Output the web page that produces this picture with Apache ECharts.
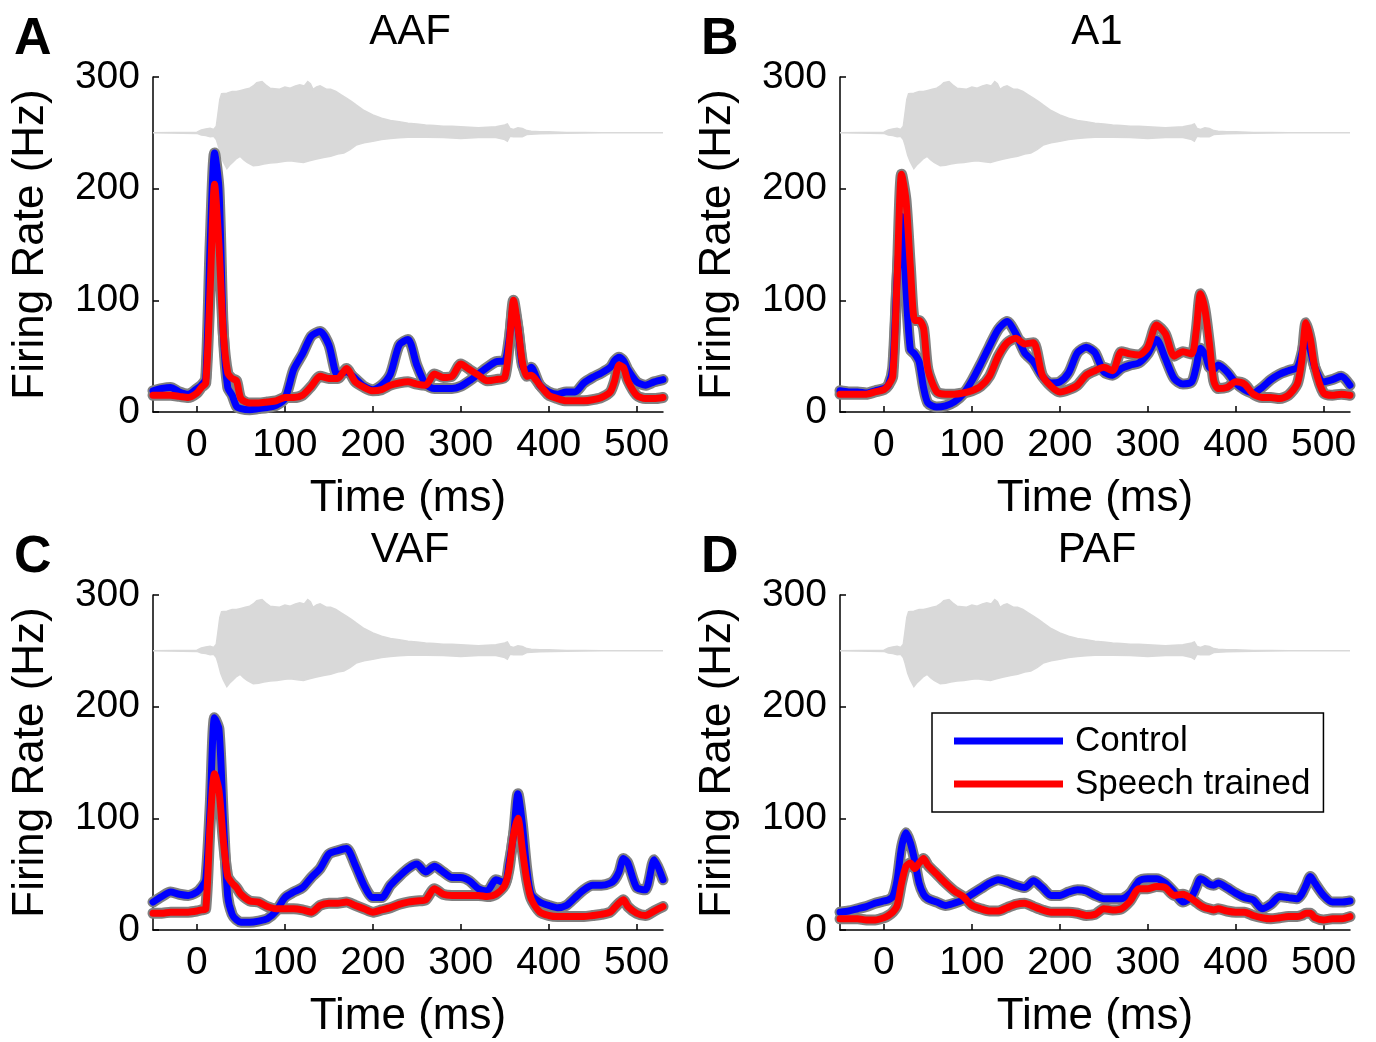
<!DOCTYPE html>
<html>
<head>
<meta charset="utf-8">
<script src="https://cdn.jsdelivr.net/npm/echarts@6/dist/echarts.min.js"></script>
<style>
  html, body { margin: 0; padding: 0; background: #fff; }
  #chart { width: 1376px; height: 1042px; }
</style>
</head>
<body>
<div id="chart"></div>
<script>
// Time base (ms, relative to stimulus onset) shared by all PSTH traces
const timeMs = [
  -50, -40, -30, -20, -10, 0, 5, 10, 15, 20, 25, 30, 35, 40, 45, 50,
  60, 70, 80, 90, 100, 110, 120, 130, 140, 150, 160, 170, 180, 190, 200, 210, 220, 230, 240, 250,
  260, 270, 280, 290, 300, 310, 320, 330, 340, 350,
  355, 360, 365, 370, 375, 380,
  390, 400, 410, 420, 430, 440, 450, 460, 470,
  475, 480, 485, 490,
  500, 510, 520, 530
];

// Mean firing rate (Hz) per field, control vs speech-trained rats
const aafControl = [
  19, 21, 22, 18, 16, 21, 24, 30, 150, 232, 200, 70, 22, 15, 5, 3,
  2, 3, 4, 6, 12, 38, 52, 68, 72, 60, 33, 36, 30, 23, 20, 24, 34, 60, 65, 42,
  25, 21, 21, 21, 23, 28, 34, 40, 45, 46,
  65, 95, 75, 42, 36, 40,
  24, 18, 16, 18, 18, 26, 31, 35, 40,
  46, 49, 46, 38,
  27, 24, 27, 29
];
const aafTrained = [
  15, 15, 15, 14, 13, 17, 22, 26, 110, 204, 150, 70, 35, 30, 28, 12,
  8, 8, 9, 10, 13, 13, 15, 23, 32, 30, 30, 39, 27, 22, 19, 20, 24, 26, 27, 25,
  24, 34, 31, 32, 43, 38, 33, 28, 29, 31,
  60, 100, 76, 45, 32, 33,
  24, 15, 12, 10, 10, 10, 11, 13, 18,
  28, 42, 40, 28,
  15, 12, 12, 13
];
const a1Control = [
  19, 18, 18, 17, 19, 21, 24, 40, 120, 175, 110, 56, 52, 45, 22, 8,
  4.5, 5.5, 9, 16, 28, 43, 59, 74, 81, 70, 53, 45, 32, 26, 27, 35, 53, 58, 53, 36,
  33, 39, 42, 44, 52, 65, 48, 30, 25, 27,
  40, 57, 52, 40, 38, 42,
  36, 26, 20, 17, 22, 29, 34, 37, 40,
  52, 68, 55, 40,
  27, 29, 32, 24
];
const a1Trained = [
  16, 16, 16, 16, 18, 20, 24, 32, 120, 213, 190, 130, 82, 82, 75, 38,
  18, 16, 16, 17, 19, 23, 32, 50, 62, 66, 61, 62, 33, 23, 18, 20, 24, 33, 37, 40,
  37, 54, 52, 51, 58, 78, 70, 50, 54, 52,
  72, 106, 92, 62, 28, 21,
  22, 27, 25, 16, 13, 13, 12, 15, 25,
  45, 80, 65, 40,
  17, 15, 16, 15
];
const vafControl = [
  25, 30, 34, 32, 31, 34, 38, 45, 110, 190, 180, 100, 30, 14, 9, 7,
  7, 8, 10, 17, 29, 34, 38, 47, 55, 68, 71, 73, 58, 40, 29, 29, 40, 48, 55, 59,
  52, 57, 52, 47, 47, 44, 37, 35, 45, 42,
  60, 85, 122, 95, 55, 32,
  25, 22, 20, 22, 29, 36, 40, 40, 42,
  45, 52, 64, 60,
  38, 36, 63, 45
];
const vafTrained = [
  15, 15, 16, 16, 16, 17, 18, 19, 95, 140, 125, 80, 48, 42, 38, 32,
  26, 25, 21, 19, 19, 19, 18, 16, 22, 24, 24, 25, 22, 19, 16, 18, 20, 23, 25, 26,
  27, 37, 32, 31, 31, 31, 31, 30, 32, 40,
  55, 85, 100, 72, 45, 28,
  16, 13, 12, 12, 12, 12, 13, 14, 16,
  20, 24, 27, 21,
  15, 13, 17, 21
];
const pafControl = [
  16, 17, 19, 21, 24, 26, 27, 30, 45, 74, 87, 78, 62, 42, 32, 28,
  25, 22, 24, 27, 32, 37, 42, 45, 43, 40, 38, 44, 38, 31, 31, 34, 36, 35, 31, 28,
  28, 28, 33, 44, 46, 46, 42, 34, 25, 30,
  38, 46, 44, 41, 40, 42,
  38, 33, 29, 27, 19, 23, 30, 29, 28,
  32, 40, 48, 42,
  31, 25, 25, 26
];
const pafTrained = [
  10, 10, 10, 9, 9, 11, 13, 16, 22, 42, 57, 60, 55, 60, 64, 58,
  50, 42, 35, 30, 22, 19, 17, 17, 20, 23, 24, 21, 18, 16, 16, 16, 15, 13, 14, 19,
  18, 19, 26, 37, 37, 39, 38, 31, 32, 28,
  25, 22, 20, 19, 18, 19,
  17, 16, 16, 13, 11, 10, 11, 12, 12,
  13, 15, 15, 11,
  9, 10, 10, 12
];

// Speech stimulus waveform envelope, drawn offset to 250 on the rate axis: [ms, upper], [ms, lower]
const waveUpper = [
  [-50, 250], [0, 250.5], [5, 252.5], [10, 253.5], [15, 254], [19, 253], [22, 256], [24, 268], [26, 280],
  [28, 285], [34, 285.5], [40, 287], [45, 287], [50, 288], [55, 289], [60, 290], [64, 292], [68, 295],
  [74, 296], [78, 293], [83, 290], [94, 289], [100, 291], [106, 290], [112, 292], [117, 293], [122, 292],
  [126, 296], [129, 294], [132, 289], [136, 291], [140, 292], [147, 289], [152, 289], [158, 287],
  [164, 284], [170, 281], [176, 278], [181, 275], [190, 270], [200, 266], [210, 263], [220, 261],
  [230, 260], [240, 258.5], [250, 258], [260, 257], [270, 256.5], [280, 256], [290, 256], [300, 255.5],
  [310, 255], [320, 254.5], [330, 255], [340, 255.5], [350, 257], [353, 258], [356, 254], [360, 253],
  [365, 254.5], [370, 254], [375, 252], [380, 251.5], [390, 251], [400, 251], [420, 250.4], [440, 250.2],
  [460, 250], [530, 250]
];
const waveLower = [
  [-50, 250], [0, 249.5], [5, 248], [10, 247.5], [15, 246.5], [19, 247], [22, 244], [24, 239], [27, 230],
  [30, 224], [34, 218], [37, 221], [41, 224], [45, 227], [49, 229], [53, 226], [57, 223.5], [64, 220.5],
  [70, 221], [76, 222], [83, 223], [91, 223.5], [100, 224.5], [106, 225], [114, 224], [121, 223.5],
  [128, 225], [136, 226.5], [144, 228], [152, 229], [160, 231], [167, 232], [174, 235], [181, 239],
  [190, 241], [200, 242.5], [210, 244], [220, 245], [230, 245.5], [240, 246], [260, 246], [280, 245.8],
  [300, 245], [320, 245.8], [340, 245.8], [350, 244], [353, 242.5], [356, 247], [360, 246.5], [370, 246.5],
  [375, 248.5], [390, 249.2], [420, 249.6], [460, 250], [530, 250]
];

// Axis ticks
const xTicks = [0, 100, 200, 300, 400, 500];
const yTicks = [0, 100, 200, 300];

const panels = [
  { letter: 'A', title: 'AAF', control: aafControl, trained: aafTrained, left: 153, top: 77 },
  { letter: 'B', title: 'A1',  control: a1Control,  trained: a1Trained,  left: 840, top: 77 },
  { letter: 'C', title: 'VAF', control: vafControl, trained: vafTrained, left: 153, top: 595 },
  { letter: 'D', title: 'PAF', control: pafControl, trained: pafTrained, left: 840, top: 595 }
];

const FONT = '"Liberation Sans", Arial, Helvetica, sans-serif';
const PLOT_W = 510, PLOT_H = 335;
const BLUE = '#0000ff', RED = '#ff0000', SEM_GRAY = '#808080', WAVE_GRAY = '#d9d9d9';

const pairs = (vals) => timeMs.map((t, i) => [t, vals[i]]);

const grids = [], xAxes = [], yAxes = [], series = [], titles = [];

panels.forEach((p, k) => {
  grids.push({ left: p.left, top: p.top, width: PLOT_W, height: PLOT_H, containLabel: false, outerBoundsMode: 'none' });

  xAxes.push({
    type: 'value', gridIndex: k, min: -50, max: 530,
    name: 'Time (ms)', nameLocation: 'middle', nameGap: 65,
    nameTextStyle: { fontFamily: FONT, fontSize: 44, color: '#000' },
    axisLine: { show: true, onZero: false, lineStyle: { color: '#000', width: 1.5 } },
    axisTick: { show: true, inside: true, length: 6, customValues: xTicks, lineStyle: { color: '#000', width: 1.5 } },
    axisLabel: { customValues: xTicks, margin: 14, fontFamily: FONT, fontSize: 39, color: '#000' },
    splitLine: { show: false }
  });

  yAxes.push({
    type: 'value', gridIndex: k, min: 0, max: 300, interval: 100,
    name: 'Firing Rate (Hz)', nameLocation: 'middle', nameGap: 100,
    nameTextStyle: { fontFamily: FONT, fontSize: 44, color: '#000' },
    axisLine: { show: true, onZero: false, lineStyle: { color: '#000', width: 1.5 } },
    axisTick: { show: true, inside: true, length: 6, customValues: yTicks, lineStyle: { color: '#000', width: 1.5 } },
    axisLabel: { customValues: yTicks, margin: 13, fontFamily: FONT, fontSize: 39, color: '#000' },
    splitLine: { show: false }
  });

  // stimulus waveform (light grey band around 250 Hz)
  series.push({
    type: 'custom', name: 'stimulus', xAxisIndex: k, yAxisIndex: k, silent: true, z: 1,
    data: [[0, 250]],
    renderItem: function (params, api) {
      if (params.dataIndex !== 0) return null;
      const pts = waveUpper.map(d => api.coord(d))
        .concat(waveLower.slice().reverse().map(d => api.coord(d)));
      return {
        type: 'polygon',
        shape: { points: pts },
        style: { fill: WAVE_GRAY, stroke: WAVE_GRAY, lineWidth: 1.5 }
      };
    }
  });

  // SEM shading under each mean trace
  [p.control, p.trained].forEach((vals, j) => {
    series.push({
      type: 'line', name: (j === 0 ? 'control' : 'trained') + ' sem ' + p.title,
      xAxisIndex: k, yAxisIndex: k, data: pairs(vals), silent: true, clip: false,
      showSymbol: false, smooth: 0.25, z: 2,
      lineStyle: { color: SEM_GRAY, width: 11, cap: 'round', join: 'round' }
    });
  });

  series.push({
    type: 'line', name: 'Control', xAxisIndex: k, yAxisIndex: k, data: pairs(p.control),
    showSymbol: false, smooth: 0.25, clip: false, z: 3, color: BLUE,
    lineStyle: { color: BLUE, width: 7, cap: 'round', join: 'round' }
  });
  series.push({
    type: 'line', name: 'Speech trained', xAxisIndex: k, yAxisIndex: k, data: pairs(p.trained),
    showSymbol: false, smooth: 0.25, clip: false, z: 4, color: RED,
    lineStyle: { color: RED, width: 7, cap: 'round', join: 'round' }
  });

  titles.push({
    text: p.title, left: p.left + 252, top: p.top - 71, textAlign: 'center',
    textStyle: { fontFamily: FONT, fontSize: 42, fontWeight: 'normal', color: '#000' }
  });
  titles.push({
    text: p.letter, left: p.left - 144, top: p.top - 68,
    textStyle: { fontFamily: FONT, fontSize: 52, fontWeight: 'bold', color: '#000' }
  });
});

const chart = echarts.init(document.getElementById('chart'), null, { renderer: 'canvas' });
chart.setOption({
  backgroundColor: '#fff',
  animation: false,
  title: titles,
  grid: grids,
  xAxis: xAxes,
  yAxis: yAxes,
  legend: {
    data: ['Control', 'Speech trained'],
    orient: 'vertical', left: 932, top: 713,
    icon: 'rect', itemWidth: 109, itemHeight: 7, itemGap: 3,
    padding: [8, 13, 8, 22],
    borderColor: '#000', borderWidth: 1.5, borderRadius: 0,
    backgroundColor: '#fff',
    selectedMode: false,
    textStyle: { fontFamily: FONT, fontSize: 35, color: '#000', lineHeight: 40, padding: [0, 0, 0, 7] }
  },
  series: series
});
</script>
</body>
</html>
